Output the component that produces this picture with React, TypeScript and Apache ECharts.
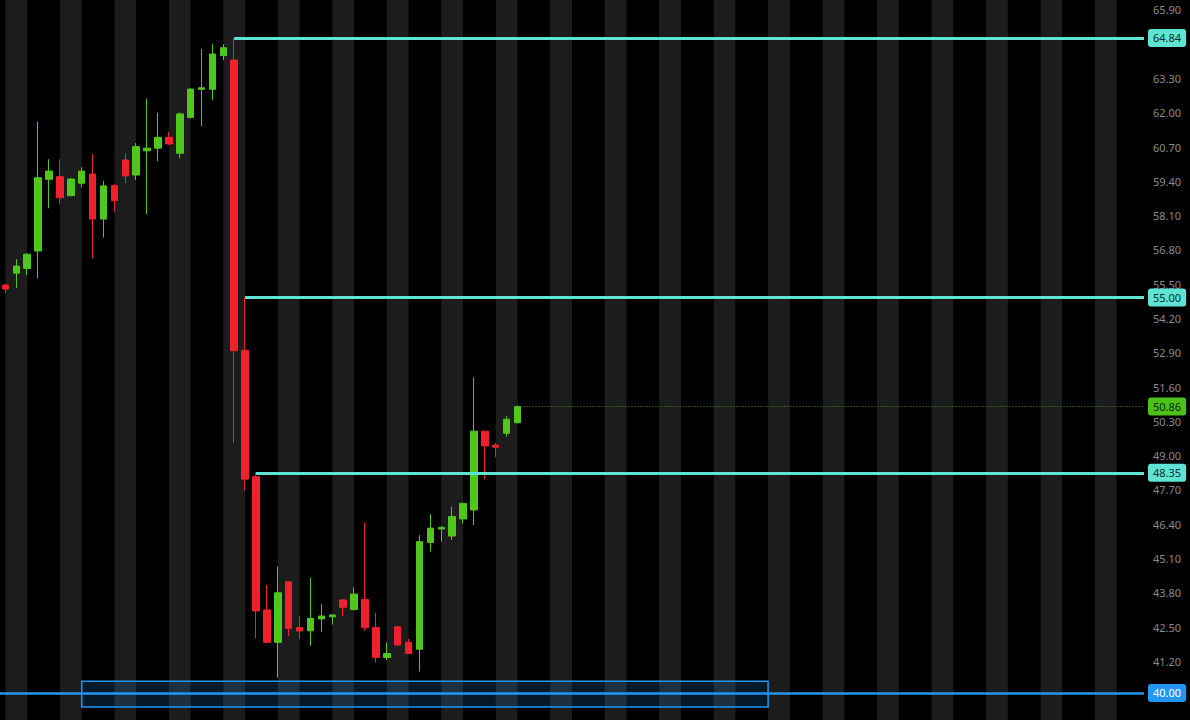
import React, { useEffect, useRef } from "react";
import * as echarts from "echarts";

// ---- data ----
const OPEN = [55.47, 55.92, 56.10, 56.76, 59.48, 59.58, 58.86, 59.33, 59.68, 57.97, 59.24, 60.21, 59.64, 60.56, 60.66, 61.07, 60.47, 61.82, 62.89, 62.89, 64.17, 64.00, 53.00, 48.20, 43.15, 41.92, 44.22, 42.48, 42.36, 42.81, 42.89, 43.53, 43.17, 43.55, 42.48, 41.35, 42.51, 41.92, 41.66, 45.71, 46.22, 45.95, 46.60, 46.94, 49.93, 49.40, 49.85, 50.25];
const CLOSE = [55.32, 56.19, 56.64, 59.54, 59.79, 58.78, 59.49, 59.79, 57.97, 59.23, 58.67, 59.61, 60.72, 60.66, 61.07, 60.82, 61.96, 62.90, 62.95, 64.23, 64.47, 52.98, 48.11, 43.11, 41.92, 43.80, 42.45, 42.35, 42.83, 42.92, 42.96, 43.25, 43.75, 42.48, 41.35, 41.50, 41.82, 41.50, 45.74, 46.25, 46.28, 46.69, 47.19, 49.93, 49.37, 49.32, 50.38, 50.86];
const LOW = [55.17, 55.35, 55.85, 55.73, 58.38, 58.54, 58.84, 59.18, 56.48, 57.27, 58.25, 59.33, 59.45, 58.16, 60.17, 60.78, 60.28, 61.79, 61.50, 62.49, 64.00, 49.47, 47.67, 42.07, 41.90, 40.58, 42.16, 42.04, 41.79, 42.32, 42.60, 42.92, 43.12, 42.35, 41.15, 41.25, 41.79, 41.47, 40.81, 45.36, 45.74, 45.80, 46.43, 46.37, 48.10, 48.94, 49.72, 50.22];
const HIGH = [55.50, 56.45, 56.68, 61.66, 60.24, 60.24, 59.53, 59.94, 60.44, 59.42, 59.30, 60.47, 60.85, 62.54, 62.01, 61.29, 62.02, 62.93, 64.42, 64.60, 64.60, 64.84, 55.00, 48.35, 44.10, 44.79, 44.24, 42.92, 44.37, 43.37, 42.98, 43.55, 44.01, 46.47, 43.04, 41.92, 42.53, 42.05, 45.99, 46.78, 46.33, 47.06, 47.22, 51.97, 49.95, 49.49, 50.50, 50.90];

const SLOT_COUNT = 105; // bars visible incl. empty future space
const CATEGORIES = Array.from({ length: SLOT_COUNT }, (_, i) => String(i + 1));

const Y_TICKS = [41.2, 42.5, 43.8, 45.1, 46.4, 47.7, 49.0, 50.3, 51.6, 52.9, 54.2, 55.5, 56.8, 58.1, 59.4, 60.7, 62.0, 63.3, 65.9];
const Y_MIN = 38.976;
const Y_MAX = 66.279;

const LEVELS = [64.84, 55.0, 48.35];
const LEVEL_START = [21, 22, 23];
const LAST_PRICE = 50.86;
const LAST_INDEX = 47;
const ALERT_LEVEL = 40.0;

const STRIPE_STARTS = [0, 5, 10, 15, 20, 25, 30, 35, 40, 45, 50, 55, 60, 65, 70, 75, 80, 85, 90, 95, 100];
const STRIPE_SPAN = 2;

const BOX_FROM = 7;
const BOX_TO = 70;
const BOX_LOW = 39.47;
const BOX_HIGH = 40.45;

// ---- style ----
const W = 1190;
const H = 720;
const GRID_RIGHT = 46;
const UP = "#4fc71c";
const DOWN = "#f0212e";
const CYAN = "#5fe3d3";
const BLUE = "#2196f3";
const FONT = "Noto Sans";

export default function App() {
  const ref = useRef<HTMLDivElement>(null);

  useEffect(() => {
    if (!ref.current) return;
    const chart = echarts.init(ref.current, null, { renderer: "svg" });
    const candles = OPEN.map((o, i) => [o, CLOSE[i], LOW[i], HIGH[i]]);
    const lineEndX = W - GRID_RIGHT;

    const labelBase = {
      show: true,
      position: "end",
      distance: 4,
      fontFamily: FONT,
      fontSize: 11,
      padding: [4, 5, 3, 5],
      borderRadius: 3,
    };

    const levelLines = LEVELS.map((v, i) => [
      {
        xAxis: LEVEL_START[i],
        yAxis: v,
        lineStyle: { color: CYAN, width: 3, type: "solid" },
        label: { ...labelBase, formatter: v.toFixed(2), backgroundColor: CYAN, color: "#06312c" },
      },
      { x: lineEndX, yAxis: v },
    ]);

    const lastLine = [
      {
        xAxis: LAST_INDEX,
        yAxis: LAST_PRICE,
        lineStyle: { color: "#3f9c1c", width: 1, type: [1, 2] },
        label: { ...labelBase, formatter: LAST_PRICE.toFixed(2), backgroundColor: "#4dc01b", color: "#0b2a02" },
      },
      { x: lineEndX, yAxis: LAST_PRICE },
    ];

    const alertLine = {
      yAxis: ALERT_LEVEL,
      lineStyle: { color: BLUE, width: 2.5, type: "solid" },
      label: { ...labelBase, formatter: ALERT_LEVEL.toFixed(2), backgroundColor: BLUE, color: "#ffffff" },
    };

    const stripes = STRIPE_STARTS.map((s) => [
      { xAxis: s, itemStyle: { color: "#1c1c1c" } },
      { xAxis: s + STRIPE_SPAN },
    ]);
    const box = [
      {
        xAxis: BOX_FROM,
        yAxis: BOX_HIGH,
        itemStyle: { color: "rgba(33,150,243,0.17)", borderColor: BLUE, borderWidth: 1.5 },
      },
      { xAxis: BOX_TO, yAxis: BOX_LOW },
    ];

    chart.setOption({
      animation: false,
      backgroundColor: "#000000",
      grid: { left: 0, right: GRID_RIGHT, top: 0, bottom: 0, containLabel: false },
      xAxis: {
        type: "category",
        data: CATEGORIES,
        boundaryGap: true,
        show: false,
      },
      yAxis: {
        type: "value",
        position: "right",
        min: Y_MIN,
        max: Y_MAX,
        scale: true,
        splitLine: { show: false },
        axisLine: { show: false },
        axisTick: { show: false },
        axisLabel: {
          customValues: Y_TICKS,
          formatter: (v: number) => v.toFixed(2),
          color: "#8a8a8a",
          fontFamily: FONT,
          fontSize: 11,
          margin: 9,
        },
      },
      series: [
        {
          type: "candlestick",
          data: candles,
          barWidth: 7,
          silent: true,
          itemStyle: {
            color: UP,
            color0: DOWN,
            borderColor: UP,
            borderColor0: DOWN,
            borderWidth: 1,
          },
          markArea: {
            silent: true,
            data: [...stripes, box],
          },
          markLine: {
            silent: true,
            symbol: ["none", "none"],
            data: [...levelLines, lastLine, alertLine],
          },
        },
      ],
    });

    return () => chart.dispose();
  }, []);

  return (
    <div
      ref={ref}
      style={{ position: "absolute", left: 0, top: 0, width: W, height: H, background: "#000" }}
    />
  );
}
